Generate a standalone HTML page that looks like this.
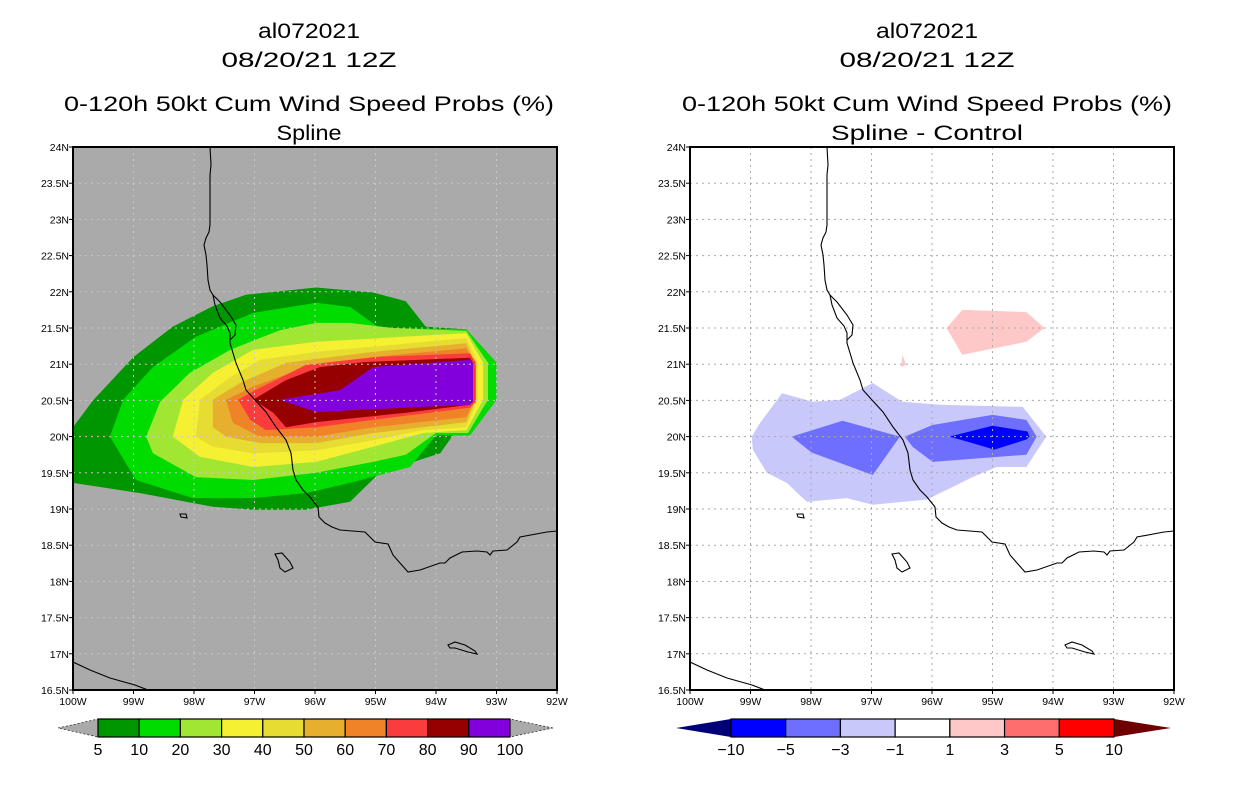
<!DOCTYPE html>
<html><head><meta charset="utf-8"><style>
html,body{margin:0;padding:0;background:#fff}
svg{display:block}
text{font-family:"Liberation Sans",sans-serif}
</style></head><body>
<svg id="s" width="1236" height="800" viewBox="0 0 1236 800" xmlns="http://www.w3.org/2000/svg">
<g font-size="21" text-anchor="middle" fill="#000">
<text x="309" y="38" textLength="102" lengthAdjust="spacingAndGlyphs">al072021</text>
<text x="309" y="67" textLength="175" lengthAdjust="spacingAndGlyphs">08/20/21 12Z</text>
<text x="309" y="111" textLength="490" lengthAdjust="spacingAndGlyphs">0-120h 50kt Cum Wind Speed Probs (%)</text>
<text x="309" y="140" textLength="65" lengthAdjust="spacingAndGlyphs">Spline</text>
</g>
<g font-size="21" text-anchor="middle" fill="#000">
<text x="927" y="38" textLength="102" lengthAdjust="spacingAndGlyphs">al072021</text>
<text x="927" y="67" textLength="175" lengthAdjust="spacingAndGlyphs">08/20/21 12Z</text>
<text x="927" y="111" textLength="490" lengthAdjust="spacingAndGlyphs">0-120h 50kt Cum Wind Speed Probs (%)</text>
<text x="927" y="140" textLength="192" lengthAdjust="spacingAndGlyphs">Spline - Control</text>
</g>
</svg>
<script>
// ---- data ----
const lonTicks = [100,99,98,97,96,95,94,93,92];
const latTicks = [24,23.5,23,22.5,22,21.5,21,20.5,20,19.5,19,18.5,18,17.5,17,16.5];
const probLevels = [5,10,20,30,40,50,60,70,80,90,100];
const probColors = ["#009600","#00dc00","#a0e632","#f5f032","#e6dc32","#e6af2d","#f08228","#fa3c3c","#960000","#8200dc"];
const diffLevels = [-10,-5,-3,-1,1,3,5,10];
const diffColors = ["#000078","#0000ff","#6e6eff","#c8c8fa","#ffffff","#ffc8c8","#ff6e6e","#ff0000","#6e0000"];
// probability contour polygons [lonW, latN], outer to inner
const prob5 = [[100,20.13],[99.67,20.5],[99,21.1],[98.35,21.52],[97.69,21.8],[97.14,21.96],[95.98,22.06],[95.04,21.99],[94.5,21.87],[94.17,21.52],[93.5,21.48],[93,21.02],[93,20.51],[93.44,20.02],[93.72,20.02],[93.93,19.77],[94.93,19.5],[95.42,19.1],[96.15,18.99],[97.02,18.99],[97.69,19.03],[98.89,19.22],[100,19.36]];
const prob10 = [[99.39,20],[99.17,20.51],[98.68,20.96],[97.97,21.38],[97.02,21.71],[95.98,21.85],[95.42,21.79],[94.93,21.5],[93.5,21.48],[93,21.02],[93,20.51],[93.44,20.02],[94,20.02],[94.43,19.58],[95.42,19.36],[96.15,19.22],[97.02,19.15],[98.02,19.15],[98.96,19.4]];
const prob20 = [[98.79,20],[98.56,20.48],[98.07,20.88],[97.4,21.2],[96.58,21.47],[95.98,21.57],[95.42,21.57],[94.71,21.5],[93.5,21.46],[93.14,21.02],[93.14,20.51],[93.47,20.05],[94,20.05],[94.5,19.75],[95.04,19.65],[95.98,19.5],[97.02,19.4],[97.97,19.44],[98.68,19.77]];
const prob30 = [[98.35,20],[98.18,20.51],[97.69,20.88],[97.02,21.2],[95.98,21.31],[93.5,21.43],[93.22,21.02],[93.22,20.51],[93.5,20.09],[94.21,20.05],[95.04,19.86],[95.98,19.65],[97.02,19.58],[97.9,19.72]];
const prob40 = [[97.97,20],[97.9,20.51],[97.4,20.82],[96.91,21.06],[95.98,21.17],[93.5,21.36],[93.31,21.02],[93.31,20.51],[93.5,20.13],[94.21,20.09],[95.04,19.95],[95.98,19.81],[97.02,19.77],[97.69,19.86]];
const prob50 = [[97.69,20.13],[97.69,20.51],[97.24,20.74],[96.48,21.02],[95.04,21.17],[93.5,21.29],[93.36,21.02],[93.36,20.48],[93.5,20.2],[95.04,20.05],[95.98,19.91],[96.91,19.91],[97.47,20]];
const prob60 = [[97.47,20.51],[97.02,20.69],[96.15,20.96],[95.04,21.1],[93.5,21.22],[93.39,21.02],[93.39,20.47],[93.5,20.27],[95.04,20.13],[95.98,20],[96.91,20],[97.36,20.19]];
const prob70 = [[97.27,20.51],[96.99,20.64],[96.15,20.99],[94.99,21.1],[93.44,21.15],[93.34,21.02],[93.34,20.48],[93.44,20.4],[95.04,20.23],[95.98,20.13],[96.81,20.09],[97.07,20.23]];
const prob80 = [[97.02,20.51],[96.48,20.78],[95.92,20.96],[95.16,21.03],[93.44,21.09],[93.39,21.02],[93.39,20.48],[93.44,20.44],[94.5,20.33],[95.98,20.2],[96.48,20.13],[96.69,20.33]];
const prob90 = [[96.58,20.51],[95.59,20.64],[95.04,20.96],[93.44,21.06],[93.39,21.02],[93.39,20.48],[93.44,20.44],[94.5,20.4],[95.98,20.34]];
// difference contour polygons
const diffNeg1 = [[98.98,20],[98.84,20.19],[98.48,20.6],[97.97,20.48],[97.52,20.51],[96.98,20.74],[96.49,20.48],[95.87,20.44],[94.5,20.41],[94.11,20],[94.44,19.58],[94.93,19.58],[95.33,19.44],[95.87,19.22],[96.09,19.13],[96.98,19.06],[97.41,19.15],[98.07,19.1],[98.4,19.36],[98.73,19.5],[98.96,19.82]];
const diffNeg3West = [[98.32,20],[97.48,20.22],[96.53,20],[96.98,19.47],[97.99,19.78]];
const diffNeg3East = [[96.45,20],[95.99,20.16],[95,20.3],[94.44,20.23],[94.27,20],[94.44,19.75],[95.99,19.65],[96.32,19.86]];
const diffNeg5 = [[95.71,20],[95,20.15],[94.42,20.07],[94.39,20],[94.44,19.96],[94.97,19.82],[95.33,19.91]];
const diffPos1 = [[95.76,21.5],[95.5,21.75],[94.44,21.72],[94.14,21.5],[94.44,21.31],[95.5,21.13]];
const diffPos1Small = [[96.49,21.13],[96.43,20.99],[96.51,20.96]];

// ---- axes ----
const MAP_W = 484, MAP_H = 543, MAP_Y = 147;
function xScale(x0, lonW){ return x0 + (100 - lonW) / 8 * MAP_W; }
function yScale(lat){ return MAP_Y + (24 - lat) / 7.5 * MAP_H; }

const NS = "http://www.w3.org/2000/svg";
const svg = document.getElementById('s');
function el(tag, attrs, parent){ const e = document.createElementNS(NS, tag); for (const k in attrs) e.setAttribute(k, attrs[k]); (parent||svg).appendChild(e); return e; }

// coastline in map-relative pixels (geography, not data)
const coastMain = [[137,0],[138,18],[137,28],[137,78],[136,85],[133,91],[131,98],[133,108],[134,118],[135,133],[137,143],[140,148],[142,158],[147,171],[154,179],[157,186],[157,196],[160,206],[163,216],[170,233],[173,243],[182,253],[193,265],[203,280],[213,293],[218,306],[220,323],[223,333],[230,343],[237,350],[245,360],[246,370],[252,376],[259,380],[267,383],[292,385],[302,395],[315,397],[320,408],[327,416],[335,425],[347,423],[367,416],[372,416],[377,411],[389,405],[404,404],[414,405],[417,408],[420,404],[434,403],[444,395],[447,390],[474,385],[484,384]];
const coastLagoon = [[140,148],[147,155],[157,168],[163,178],[162,188],[157,193]];
const island1 = [[202,407],[209,406],[217,415],[220,421],[212,425],[207,421],[205,413]];
const island2 = [[375,498],[382,495],[392,498],[402,504],[404,507],[395,505],[382,501],[377,501]];
const coastSW = [[0,515],[17,523],[37,531],[62,538],[75,543]];
const islet = [[107,367],[113,367],[114,371],[108,370]];

function drawMap(x0, bg, polys, side){
  const g = el('g', {});
  
  
  const clipId = 'clip-' + side;
  const cp = el('clipPath', {id: clipId}, g);
  el('rect', {x: x0, y: MAP_Y, width: MAP_W, height: MAP_H}, cp);
  const bgRect = el('rect', {x: x0, y: MAP_Y, width: MAP_W, height: MAP_H, fill: bg}, g);
  
  
  const cg = el('g', {'clip-path': 'url(#' + clipId + ')'}, g);
  polys.forEach(p => {
    const pts = p.data.map(d => xScale(x0, d[0]).toFixed(1) + ',' + yScale(d[1]).toFixed(1)).join(' ');
    const poly = el('polygon', {points: pts, fill: p.color}, cg);
    
    
  });
  // grid
  const gridColor = side === 'left' ? '#c8c8c8' : '#aaaaaa';
  lonTicks.slice(1, -1).forEach(l => {
    const x = xScale(x0, l);
    const ln = el('line', {x1: x, x2: x, y1: MAP_Y, y2: MAP_Y + MAP_H, stroke: gridColor, 'stroke-width': 1, 'stroke-dasharray': '2,4'}, cg);
    
    
  });
  latTicks.slice(1, -1).forEach(l => {
    const y = yScale(l);
    const ln = el('line', {x1: x0, x2: x0 + MAP_W, y1: y, y2: y, stroke: gridColor, 'stroke-width': 1, 'stroke-dasharray': '2,4'}, cg);
    
    
  });
  // coast
  const cgrp = el('g', {transform: 'translate(' + x0 + ',' + MAP_Y + ')', fill: 'none', stroke: '#000', 'stroke-width': 1.1}, cg);
  
  
  [coastMain, coastLagoon, coastSW].forEach(c => el('polyline', {points: c.map(p => p.join(',')).join(' ')}, cgrp));
  [island1, island2, islet].forEach(c => el('polygon', {points: c.map(p => p.join(',')).join(' ')}, cgrp));
  // frame
  const fr = el('rect', {x: x0, y: MAP_Y, width: MAP_W, height: MAP_H, fill: 'none', stroke: '#000', 'stroke-width': 2}, g);
  
  
  // ticks & labels
  lonTicks.forEach(l => {
    const x = xScale(x0, l);
    el('line', {x1: x, x2: x, y1: MAP_Y + MAP_H, y2: MAP_Y + MAP_H + 4, stroke: '#000'}, g);
    const t = el('text', {x: x, y: MAP_Y + MAP_H + 15, 'font-size': 10.5, 'text-anchor': 'middle'}, g);
    t.textContent = l + 'W';
    
    
  });
  latTicks.forEach(l => {
    const y = yScale(l);
    el('line', {x1: x0 - 4, x2: x0, y1: y, y2: y, stroke: '#000'}, g);
    const t = el('text', {x: x0 - 4, y: y + 4, 'font-size': 10.5, 'text-anchor': 'end'}, g);
    t.textContent = l + 'N';
    
    
  });
}

drawMap(73, '#aaaaaa', [
  {data: prob5, color: probColors[0], name: 'prob-5-10'},
  {data: prob10, color: probColors[1], name: 'prob-10-20'},
  {data: prob20, color: probColors[2], name: 'prob-20-30'},
  {data: prob30, color: probColors[3], name: 'prob-30-40'},
  {data: prob40, color: probColors[4], name: 'prob-40-50'},
  {data: prob50, color: probColors[5], name: 'prob-50-60'},
  {data: prob60, color: probColors[6], name: 'prob-60-70'},
  {data: prob70, color: probColors[7], name: 'prob-70-80'},
  {data: prob80, color: probColors[8], name: 'prob-80-90'},
  {data: prob90, color: probColors[9], name: 'prob-90-100'}
], 'left');

drawMap(690, '#ffffff', [
  {data: diffNeg1, color: diffColors[3], name: 'diff-minus3-minus1'},
  {data: diffNeg3West, color: diffColors[2], name: 'diff-minus5-minus3-west'},
  {data: diffNeg3East, color: diffColors[2], name: 'diff-minus5-minus3-east'},
  {data: diffNeg5, color: diffColors[1], name: 'diff-minus10-minus5'},
  {data: diffPos1, color: diffColors[5], name: 'diff-1-3'},
  {data: diffPos1Small, color: diffColors[5], name: 'diff-1-3-small'}
], 'right');

// ---- colorbars ----
function colorbar(x0, x1, tipL, tipR, levels, colors, hasEndTriangles, side){
  const g = el('g', {});
  
  
  const y0 = 719, y1 = 737, ym = 728;
  const nBoxes = levels.length - 1;
  const w = (x1 - x0) / nBoxes;
  const leftCol = hasEndTriangles ? colors[0] : '#aaaaaa';
  const rightCol = hasEndTriangles ? colors[colors.length - 1] : '#aaaaaa';
  const lt = el('polygon', {points: `${tipL},${ym} ${x0},${y0} ${x0},${y1}`, fill: leftCol, stroke: hasEndTriangles ? 'none' : '#000', 'stroke-width': 0.6, 'stroke-dasharray': hasEndTriangles ? '' : '2,2'}, g);
  
  
  const rt = el('polygon', {points: `${tipR},${ym} ${x1},${y0} ${x1},${y1}`, fill: rightCol, stroke: hasEndTriangles ? 'none' : '#000', 'stroke-width': 0.6, 'stroke-dasharray': hasEndTriangles ? '' : '2,2'}, g);
  
  
  const off = hasEndTriangles ? 1 : 0;
  for (let i = 0; i < nBoxes; i++) {
    const r = el('rect', {x: x0 + i * w, y: y0, width: w, height: y1 - y0, fill: colors[i + off], stroke: '#000', 'stroke-width': 1.2}, g);
    
    
  }
  levels.forEach((lv, i) => {
    const t = el('text', {x: x0 + i * w, y: 755, 'font-size': 16, 'text-anchor': 'middle'}, g);
    t.textContent = lv < 0 ? '\u2212' + Math.abs(lv) : String(lv);
    
    
  });
}
colorbar(98, 510, 58, 553, probLevels, probColors, false, 'left');
colorbar(731, 1114, 676, 1171, diffLevels, diffColors, true, 'right');
</script>
</body></html>
